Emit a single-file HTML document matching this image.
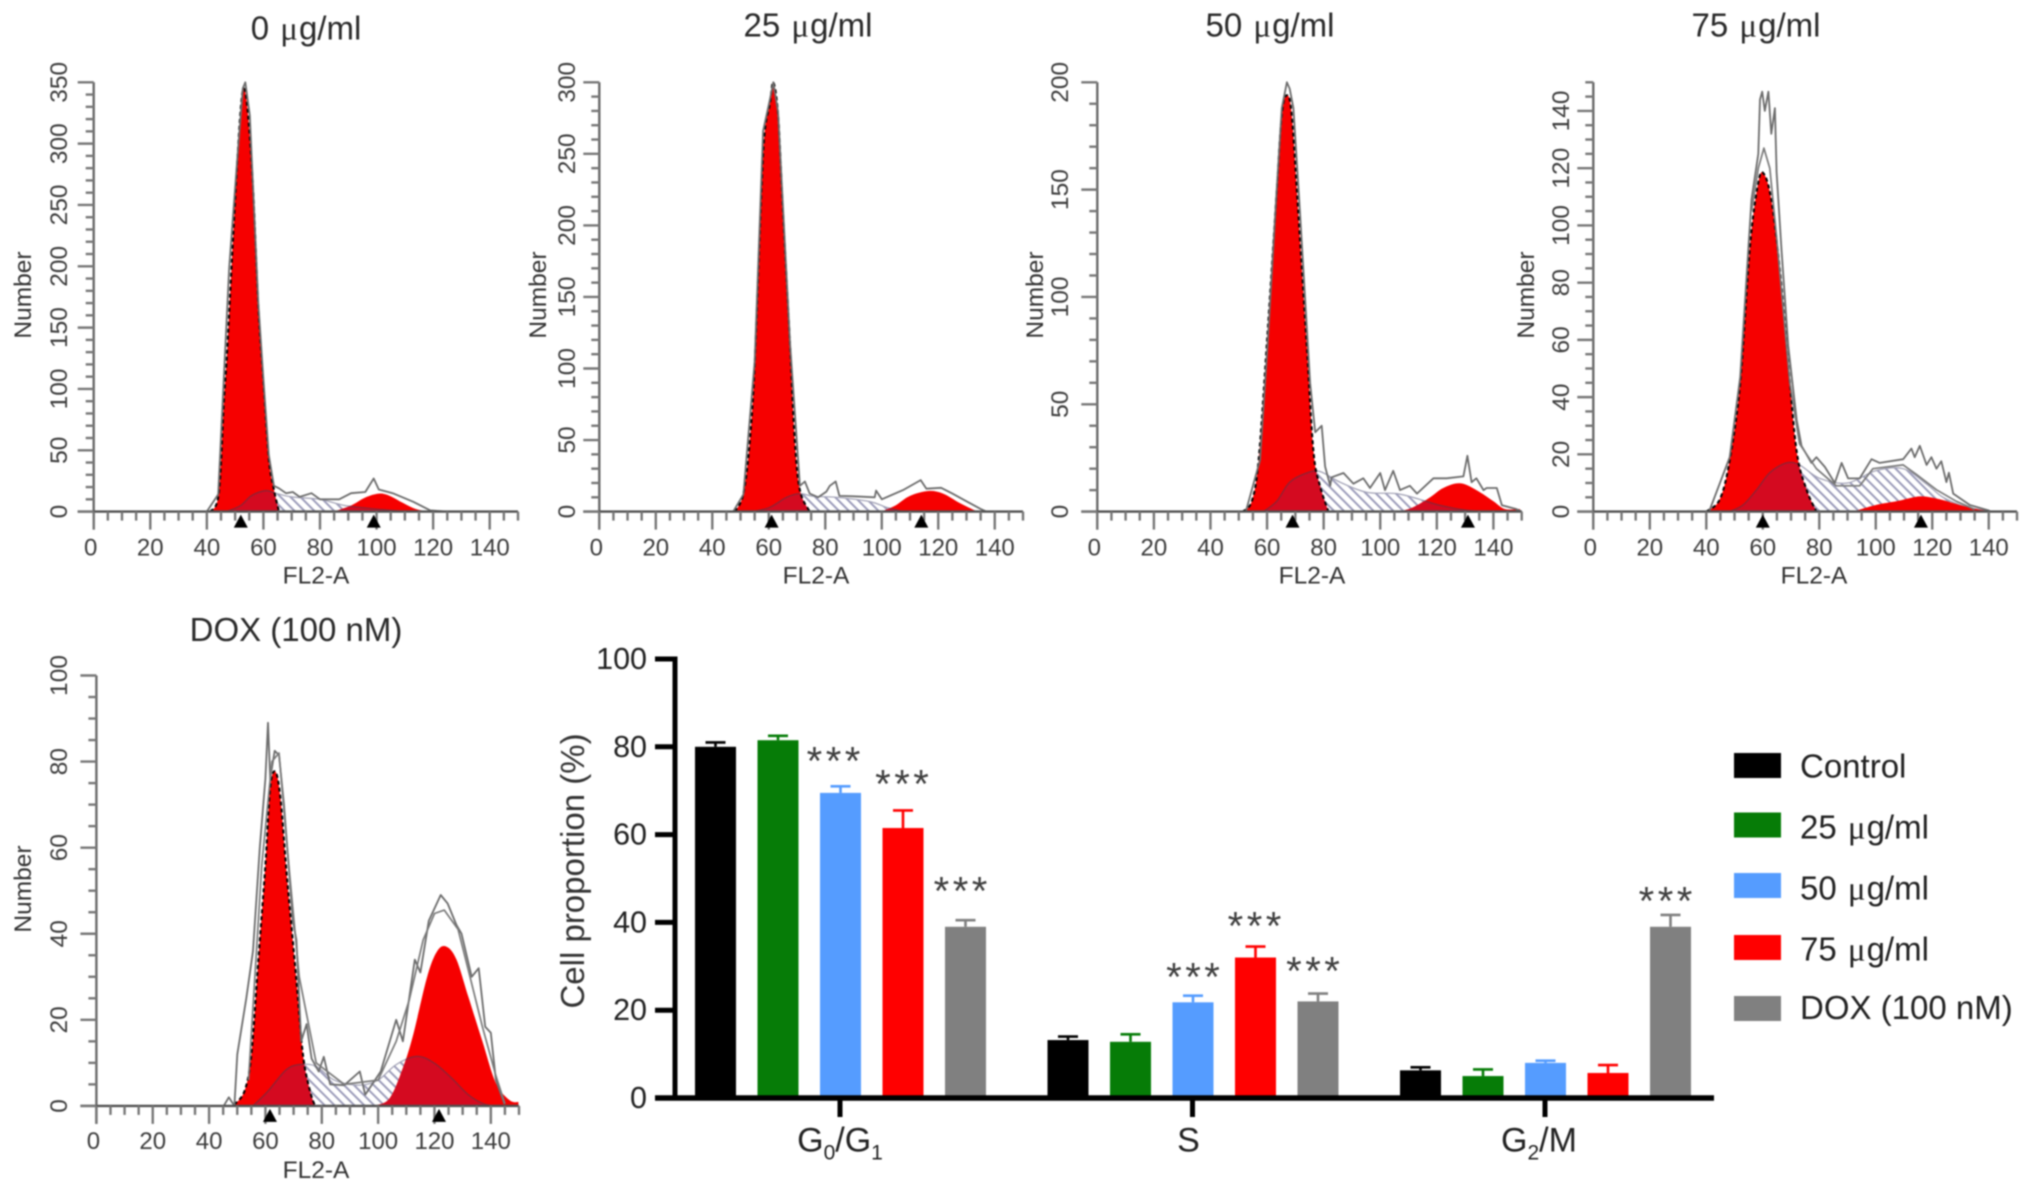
<!DOCTYPE html>
<html lang="en">
<head>
<meta charset="utf-8">
<title>Cell cycle flow cytometry histograms and cell proportion bar chart</title>
<style>
html,body{margin:0;padding:0;background:#fff;}
svg{display:block;font-family:"Liberation Sans",Arial,sans-serif;filter:blur(0.8px);}
</style>
</head>
<body>
<svg id="figure" xmlns="http://www.w3.org/2000/svg" width="2032" height="1192" viewBox="0 0 2032 1192">
<defs>
<pattern id="hatch" width="7" height="7" patternUnits="userSpaceOnUse" patternTransform="rotate(-45)">
<rect width="7" height="7" fill="#fff"></rect>
<rect width="2" height="7" fill="#9c9cba"></rect>
</pattern>
</defs>
<rect width="2032" height="1192" fill="#fff"></rect>
</svg>
<script>
/* ---------- histogram data (FL2-A channel, cell count) ---------- */
const histTitles = ['0 <tspan font-family="Liberation Serif" dx="2">μ</tspan><tspan dx="1">g/ml</tspan>','25 <tspan font-family="Liberation Serif" dx="2">μ</tspan><tspan dx="1">g/ml</tspan>','50 <tspan font-family="Liberation Serif" dx="2">μ</tspan><tspan dx="1">g/ml</tspan>','75 <tspan font-family="Liberation Serif" dx="2">μ</tspan><tspan dx="1">g/ml</tspan>','DOX (100 nM)'];
const histKeys = ['0-ug','25-ug','50-ug','75-ug','dox'];
const histYMax = [350,300,200,150,100];
const histMajorStep = [50,50,50,20,20];
const histMinorStep = [10,10,10,5,5];
const xTickLabels = [0,20,40,60,80,100,120,140];
const markerPeaks = [[52,99],[61,114],[69,131],[60,116],[61.6,121.6]];
const sOverG2 = [true,true,true,false,true];

const g1X0 = [41.2,44.2,46,47.3,49.7,51.8,53.1,54.6,56.4,58.2,60,61.9,63.7,65.5];
const g1Y0 = [0,14.7,89,136,242,323,345,323,261,167,105,43,18,0];
const sX0 = [47,52,55.8,60.7,64.3,70,80,88.7,100,110];
const sY0 = [0,5,13,17,15,12,10,5,2,0];
const g2X0 = [85,91,96,100.8,104.5,109.4,114,119];
const g2Y0 = [0,5,11.5,14.7,13,7,2,0];
const rawX0 = [40,44,47.9,50.9,52.7,53.6,55.2,58.2,60,61.9,63.7,65.5,68,70.4,72.8,77,80,86.8,91,96,99,100.8,105.7,113,119,125];
const rawY0 = [0,14,199,292,345,350,323,170,108,46,21,19,15,16,12,15,10,10,15,16,27,18,15,8,1,0];

const g1X1 = [48,51,53.3,55,57.4,58.6,60.4,61.6,63.3,65,67.5,69.2,71,74.5];
const g1Y1 = [0,12.6,50,103,224,266,285,300,277,210,117,50,15,0];
const sX1 = [54.5,60.4,66.3,71,75.7,84,95.8,101.6,107.5];
const sY1 = [0,3,10,12.6,10.7,10,7,3,0];
const g2X1 = [100,105,110,116.4,121.7,127.6,133.5,136];
const g2Y1 = [0,4.5,11,14.4,12.6,6,0.5,0];
const rawX1 = [47.4,51,55,58,60.4,61.6,63.3,67.5,71,72.8,74.5,77.5,80.4,81.6,83.7,85,90,97.5,98,100,107.5,113.8,115.8,121,125,130,135,137];
const rawY1 = [0,12,105,266,288,300,279,118,18,21,12.6,10,14,18,21,11,10.7,10,14.7,8.6,15,22,16,16.6,12.6,7.2,1.9,0];

const g1X2 = [51.4,54.6,57,59.9,63.4,65.2,67,68.7,71,74,76.4,78.7,81.7];
const g1Y2 = [0,4.8,24,78,149,185,194,185,140,78,28,12,0];
const sX2 = [58.7,63.4,68,74,78.7,85.8,95.2,105.8,114,121,131.7,140];
const sY2 = [0,4.8,13.7,18,18.7,13.7,9,8.4,5.7,3,0.4,0];
const g2X2 = [107,111.7,117.6,122.3,128.2,134,140,144,149.4];
const g2Y2 = [0,2,6.6,11,13.2,10,4.8,1.2,1.2];
const rawX2 = [52.5,57.5,60.2,63.4,65.2,67,68,69.3,71.6,75.2,77,79.3,80.5,82.3,82.8,87,90.5,94,96.4,100,101.7,104.6,107,110.5,113,118.8,123.5,129.4,130.8,132.3,134,136.5,137.6,141.2,143,148,150];
const rawY2 = [0,24,78,150,188,200,197,188,140,60,37,40,21,12,16,18,13,15.5,11,18,10,19,10,12,8.4,15.5,15.5,16.4,26,13.7,15.5,10,11,11,3,1.2,0];

const g1X3 = [40,44.8,48.3,52,55.4,58.4,60.4,63,66,69,72,75.5,79];
const g1Y3 = [0,4.3,18,45,92,115,118,109,85,52,21,7.6,0];
const sX3 = [48.3,53,57.8,62.5,68.4,73,80.2,90,100,109.7,118,123.8,132,141.5];
const sY3 = [0,2.3,7.6,13.6,17,16.3,11.6,10,14.3,15,9.6,5,1.6,0];
const g2X3 = [92,100,107.3,115.6,122.6,129.7,136.8,143.9];
const g2Y3 = [0,2.3,3.6,5.3,4.3,2.3,0.7,0];
const rawX3 = [41,48.3,52,56,58.4,59,59.8,60.7,62,63,64.3,64.9,66.6,69,72,73.7,77.2,79,82,85.5,87.9,90.2,94.3,98.5,101.4,109.7,112.6,113.8,115.6,118,119.7,121.5,123.2,125,125.9,127.4,133.3,140.3];
const rawY3 = [0,19,47,109,125,144,146.7,140,146.7,132,141,118.6,92,58,32,23,17,19,15.6,10,17,11.6,11.6,18.3,17,18.3,22,19,23,16.3,19,15,17.6,10.3,13.6,6.3,2.3,0.3];
const raw2X3 = [56,58.4,60.4,62.5,64.9,69.6,73,79,86,94.3,99,109.7,114.4,121.5,128.5,135];
const raw2Y3 = [105,120,127,120,96,45,23.7,15,9,9,15,16.3,13,7.6,3.6,0.8];

const g1X4 = [49,52.6,55,57.5,60,61.7,63.6,65.4,67.8,70.9,73.3,75.8,77.6];
const g1Y4 = [0.3,3.5,12,34,56,74,77.6,71,52,30,12,3.5,0];
const sX4 = [55.6,61,67.2,72,78,84.4,93,100,106.4,113.7,119.8,126,132,137,140.6];
const sY4 = [0,3.5,8.3,9.6,9.2,6,4.8,6,9.6,11.5,10,6.5,2.6,0.6,0];
const g2X4 = [98.4,104,108.8,112.5,117.4,121,124.3,127.8,132,137,141.8,146.7,149.8];
const g2Y4 = [0,1.7,8.8,16.7,30,36,37,34,25.4,15,5.3,1.3,0.9];
const rawX4 = [45.2,47,49,50,53.2,55.6,58,60,60.9,61.7,63.3,64.8,66.6,69.7,71,72.7,74.6,76.4,78.9,80.7,83,88,93.5,95.4,100.9,106.4,108.8,113,115,118,122.2,124.7,127.8,129.6,133.2,135.7,138,140,141.8,144.9];
const rawY4 = [0,2,0,12,25,36,60,76,89,76,82.5,81.5,70,43,38.6,15,19,11,8,11.4,5,4.8,8,2.6,8,20,15,34,31,43,49,47,42,40,30,32,18.4,17,6,0.4];
const raw2X4 = [54,58.7,62.3,64.8,68,72,78,88,100,106.4,111,116,120,123.5,128.4,132,137,141.8,145];
const raw2Y4 = [6,56,80,82,58,30,10,5,6,15,24.5,38.6,44.7,45.5,41,31.6,18.4,7,0.5];

const histSeries = [
  {g1X:g1X0,g1Y:g1Y0,sX:sX0,sY:sY0,g2X:g2X0,g2Y:g2Y0,rawX:rawX0,rawY:rawY0,raw2X:[],raw2Y:[]},
  {g1X:g1X1,g1Y:g1Y1,sX:sX1,sY:sY1,g2X:g2X1,g2Y:g2Y1,rawX:rawX1,rawY:rawY1,raw2X:[],raw2Y:[]},
  {g1X:g1X2,g1Y:g1Y2,sX:sX2,sY:sY2,g2X:g2X2,g2Y:g2Y2,rawX:rawX2,rawY:rawY2,raw2X:[],raw2Y:[]},
  {g1X:g1X3,g1Y:g1Y3,sX:sX3,sY:sY3,g2X:g2X3,g2Y:g2Y3,rawX:rawX3,rawY:rawY3,raw2X:raw2X3,raw2Y:raw2Y3},
  {g1X:g1X4,g1Y:g1Y4,sX:sX4,sY:sY4,g2X:g2X4,g2Y:g2Y4,rawX:rawX4,rawY:rawY4,raw2X:raw2X4,raw2Y:raw2Y4}
];

/* ---------- bar chart data ---------- */
const phaseLabels = ['G0/G1','S','G2/M'];
const legendLabels = ['Control','25 <tspan font-family="Liberation Serif" dx="2">μ</tspan><tspan dx="1">g/ml</tspan>','50 <tspan font-family="Liberation Serif" dx="2">μ</tspan><tspan dx="1">g/ml</tspan>','75 <tspan font-family="Liberation Serif" dx="2">μ</tspan><tspan dx="1">g/ml</tspan>','DOX (100 nM)'];
const barTickLabels = [0,20,40,60,80,100];
const controlMeans = [80,13.2,6.3];
const ug25Means = [81.5,12.8,5];
const ug50Means = [69.5,21.8,8];
const ug75Means = [61.5,32,5.7];
const doxMeans = [39,22,39];
const controlErrors = [1,0.8,0.7];
const ug25Errors = [1,1.7,1.5];
const ug50Errors = [1.5,1.5,0.5];
const ug75Errors = [4,2.5,1.8];
const doxErrors = [1.5,1.8,2.7];
const sigGroup = [0,0,0,1,1,1,2];
const sigSeries = [2,3,4,2,3,4,4];
const sigValue = [78.2,73,48.6,29,40.7,30.4,46.3];

/* ---------- layout ---------- */
const histLayouts = [
  {x0:93.7,x150:518,y0:511.6,yTop:82.3,numX:31,tickX:67,titleX:306,titleY:39.4,numY:295,flX:316,flY:583.6,xTickY:555.7},
  {x0:599.3,x150:1023,y0:511.6,yTop:82.3,numX:546,tickX:575,titleX:808,titleY:36.4,numY:295,flX:816,flY:583.6,xTickY:555.7},
  {x0:1097.3,x150:1521.7,y0:511.6,yTop:82.3,numX:1043,tickX:1068,titleX:1270,titleY:36.4,numY:295,flX:1312,flY:583.6,xTickY:555.7},
  {x0:1593.3,x150:2017,y0:511.6,yTop:82.3,numX:1534,tickX:1569,titleX:1756,titleY:36.4,numY:295,flX:1814,flY:583.6,xTickY:555.7},
  {x0:96.4,x150:519,y0:1105.9,yTop:675.5,numX:31,tickX:67,titleX:296,titleY:640.8,numY:889,flX:316,flY:1178,xTickY:1149}
];
const barColors = ['#000000','#067c07','#559cff','#ff0000','#808080'];
const svg = document.getElementById('figure');
const NS = 'http://www.w3.org/2000/svg';

function mk(tag, attrs, parent) {
  const e = document.createElementNS(NS, tag);
  for (const k in attrs) e.setAttribute(k, attrs[k]);
  parent.appendChild(e);
  return e;
}
function smooth(pts) {
  let d = 'M' + pts[0][0].toFixed(1) + ' ' + pts[0][1].toFixed(1);
  for (let i = 0; i < pts.length - 1; i++) {
    const p0 = pts[Math.max(i - 1, 0)], p1 = pts[i], p2 = pts[i + 1], p3 = pts[Math.min(i + 2, pts.length - 1)];
    const c1x = p1[0] + (p2[0] - p0[0]) / 6, c1y = p1[1] + (p2[1] - p0[1]) / 6;
    const c2x = p2[0] - (p3[0] - p1[0]) / 6, c2y = p2[1] - (p3[1] - p1[1]) / 6;
    d += 'C' + c1x.toFixed(1) + ' ' + c1y.toFixed(1) + ' ' + c2x.toFixed(1) + ' ' + c2y.toFixed(1) + ' ' + p2[0].toFixed(1) + ' ' + p2[1].toFixed(1);
  }
  return d;
}
function poly(pts) {
  return 'M' + pts.map(p => p[0].toFixed(1) + ' ' + p[1].toFixed(1)).join('L');
}

/* ---------- histogram panels ---------- */
histLayouts.forEach((L, i) => {
  const S = histSeries[i];
  const xs = v => L.x0 + v * (L.x150 - L.x0) / 150;
  const ys = v => L.y0 - v * (L.y0 - L.yTop) / histYMax[i];
  const pts = (X, Y) => X.map((v, k) => [xs(v), ys(Y[k])]);
  const area = (X, Y) => smooth(pts(X, Y)) + 'L' + xs(X[X.length - 1]).toFixed(1) + ' ' + L.y0 + 'L' + xs(X[0]).toFixed(1) + ' ' + L.y0 + 'Z';

  const g = mk('g', {}, svg);
  
  

  const title = mk('text', {x: L.titleX, y: L.titleY, 'text-anchor': 'middle', 'font-size': 33, fill: '#2a2a2a'}, g);
  
  
  title.innerHTML = histTitles[i];

  const clip = mk('clipPath', {id: 'peaks' + i}, g);
  
  
  const c1 = mk('path', {d: area(S.g1X, S.g1Y)}, clip);
  
  
  if (sOverG2[i]) {
    const c2 = mk('path', {d: area(S.g2X, S.g2Y)}, clip);
    
    
  }

  const sArea = mk('path', {d: area(S.sX, S.sY), fill: 'url(#hatch)'}, g);
  
  

  const sTop = mk('path', {d: smooth(pts(S.sX, S.sY)), fill: 'none', stroke: '#a0a0b4', 'stroke-width': 1.2}, g);
  
  

  const g1Area = mk('path', {d: area(S.g1X, S.g1Y), fill: '#f60000'}, g);
  
  

  const g2Area = mk('path', {d: area(S.g2X, S.g2Y), fill: '#f60000'}, g);
  
  

  const overlap = mk('path', {d: area(S.sX, S.sY), fill: '#d40a20', 'clip-path': 'url(#peaks' + i + ')'}, g);
  
  

  const sLine = mk('path', {d: smooth(pts(S.sX, S.sY)), fill: 'none', stroke: '#8a2436', 'stroke-width': 1.3, 'clip-path': 'url(#peaks' + i + ')'}, g);
  
  

  const g1Edge = mk('path', {d: smooth(pts(S.g1X, S.g1Y)), fill: 'none', stroke: '#000', 'stroke-width': 2, 'stroke-dasharray': '4 3'}, g);
  
  

  const raw = mk('path', {d: poly(pts(S.rawX, S.rawY)), fill: 'none', stroke: '#6c6c6c', 'stroke-width': 1.8, 'stroke-linejoin': 'round'}, g);
  
  

  if (S.raw2X.length) {
    const raw2 = mk('path', {d: poly(pts(S.raw2X, S.raw2Y)), fill: 'none', stroke: '#7a7a7a', 'stroke-width': 1.7, 'stroke-linejoin': 'round'}, g);
    
    
  }

  const yLine = mk('line', {x1: L.x0, x2: L.x0, y1: L.yTop, y2: L.y0 + 18, stroke: '#6a6a6a', 'stroke-width': 2.4}, g);
  
  
  const xLine = mk('line', {x1: L.x0 - 16, x2: L.x150, y1: L.y0, y2: L.y0, stroke: '#505050', 'stroke-width': 2.4}, g);
  
  

  for (let v = 0; v <= histYMax[i]; v += histMinorStep[i]) {
    const major = v % histMajorStep[i] === 0;
    const t = mk('line', {x1: L.x0 - (major ? 16 : 8), x2: L.x0, y1: ys(v), y2: ys(v), stroke: '#777', 'stroke-width': 2.4}, g);
    
    
    if (major) {
      const lab = mk('text', {transform: 'translate(' + L.tickX + ' ' + ys(v) + ') rotate(-90)', 'text-anchor': 'middle', 'font-size': 24.5, fill: '#3c3c3c'}, g);
      
      
      lab.textContent = v;
    }
  }
  for (let v = 0; v <= 150; v += 5) {
    const major = v % 20 === 0;
    const t = mk('line', {x1: xs(v), x2: xs(v), y1: L.y0, y2: L.y0 + (major ? 18 : 9), stroke: '#777', 'stroke-width': 2.4}, g);
    
    
  }
  xTickLabels.forEach(v => {
    const lab = mk('text', {x: xs(v) - (v === 0 ? 3 : 0), y: L.xTickY, 'text-anchor': 'middle', 'font-size': 24, fill: '#3c3c3c'}, g);
    
    
    lab.textContent = v;
  });

  markerPeaks[i].forEach(v => {
    const cx = xs(v), top = L.y0 + 3;
    const m = mk('path', {d: 'M' + cx + ' ' + top + 'l7 13h-14z', fill: '#000'}, g);
    
    
  });

  const num = mk('text', {transform: 'translate(' + L.numX + ' ' + L.numY + ') rotate(-90)', 'text-anchor': 'middle', 'font-size': 24.5, fill: '#333'}, g);
  
  
  num.textContent = 'Number';

  const fl = mk('text', {x: L.flX, y: L.flY, 'text-anchor': 'middle', 'font-size': 24.5, fill: '#333'}, g);
  
  
  fl.textContent = 'FL2-A';
});

/* ---------- bar chart ---------- */
const barMeans = [controlMeans, ug25Means, ug50Means, ug75Means, doxMeans];
const barErrors = [controlErrors, ug25Errors, ug50Errors, ug75Errors, doxErrors];
const barY = v => 1098 - v * 4.39;
const barLeft = (grp, ser) => 695 + grp * 352.5 + ser * 62.5;
const barW = 41;

const bc = mk('g', {}, svg);



barMeans.forEach((means, s) => {
  means.forEach((m, g) => {
    const cx = barLeft(g, s) + barW / 2;
    const top = barY(m + barErrors[s][g]);
    const stem = mk('line', {x1: cx, x2: cx, y1: barY(m), y2: top, stroke: barColors[s], 'stroke-width': 2.6}, bc);
    
    
    const cap = mk('line', {x1: cx - 10, x2: cx + 10, y1: top, y2: top, stroke: barColors[s], 'stroke-width': 2.6}, bc);
    
    
    const r = mk('rect', {x: barLeft(g, s), y: barY(m), width: barW, height: barY(0) - barY(m), fill: barColors[s]}, bc);
    
    
  });
});

const by = mk('line', {x1: 675, x2: 675, y1: barY(100) - 2.5, y2: barY(0) + 2.5, stroke: '#000', 'stroke-width': 5}, bc);


const bx = mk('line', {x1: 655, x2: 1714, y1: barY(0), y2: barY(0), stroke: '#000', 'stroke-width': 5.5}, bc);



barTickLabels.forEach(v => {
  const t = mk('line', {x1: 655, x2: 675, y1: barY(v), y2: barY(v), stroke: '#000', 'stroke-width': 5}, bc);
  
  
  const lab = mk('text', {x: 647, y: barY(v) + 10, 'text-anchor': 'end', 'font-size': 30.5, fill: '#222'}, bc);
  
  
  lab.textContent = v;
});

const barYTitle = mk('text', {transform: 'translate(584 871) rotate(-90)', 'text-anchor': 'middle', 'font-size': 33, fill: '#333'}, bc);


barYTitle.textContent = 'Cell proportion (%)';

const phaseMarkup = ['G<tspan font-size="21" dy="8">0</tspan><tspan dy="-8">/G</tspan><tspan font-size="21" dy="8">1</tspan>', 'S', 'G<tspan font-size="21" dy="8">2</tspan><tspan dy="-8">/M</tspan>'];
const phaseLabelOffset = [0, -4, -6];
phaseLabels.forEach((p, g) => {
  const cx = barLeft(g, 2) + barW / 2 - 0.5;
  const t = mk('line', {x1: cx, x2: cx, y1: barY(0), y2: 1117, stroke: '#000', 'stroke-width': 5}, bc);
  
  
  const lab = mk('text', {x: cx + phaseLabelOffset[g], y: 1151.5, 'text-anchor': 'middle', 'font-size': 34, fill: '#222'}, bc);
  
  
  lab.innerHTML = phaseMarkup[g];
});

sigValue.forEach((v, k) => {
  const cx = barLeft(sigGroup[k], sigSeries[k]) + barW / 2 + (sigSeries[k] === 2 ? 0 : (sigSeries[k] === 3 ? -1 : -5));
  const star = mk('text', {x: cx - (k < 1 ? 7 : 0) + 1.75, y: barY(v) + 20, 'text-anchor': 'middle', 'font-size': 40, 'letter-spacing': 3.5, fill: '#3f3f3f'}, bc);
  
  
  star.textContent = '***';
});

/* ---------- legend ---------- */
const legendTop = [753, 812.5, 873, 935, 996];
const legendBase = [777.5, 838.5, 899.5, 960.5, 1019];
legendLabels.forEach((txt, k) => {
  const e = mk('g', {}, svg);
  
  
  const sw = mk('rect', {x: 1734, y: legendTop[k], width: 47, height: 25, fill: barColors[k]}, e);
  
  
  const t = mk('text', {x: 1800, y: legendBase[k], 'font-size': 33, fill: '#222'}, e);
  
  
  t.innerHTML = txt;
});
</script>
</body>
</html>
